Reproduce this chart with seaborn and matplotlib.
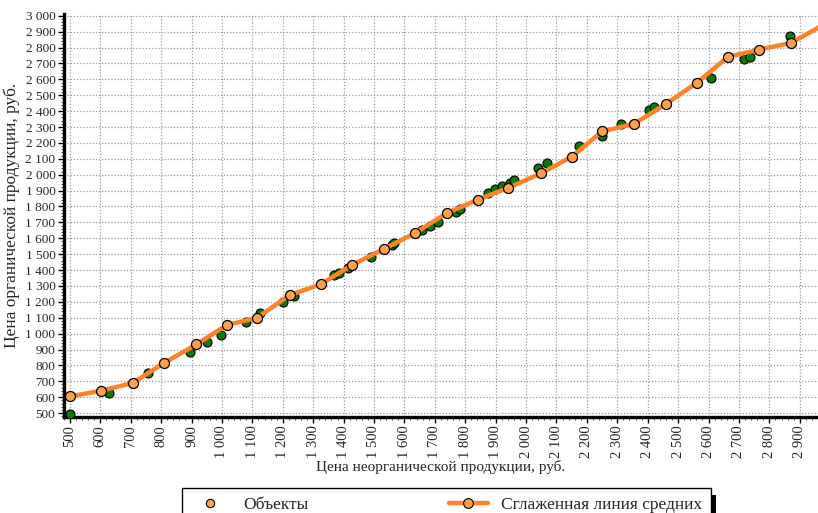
import numpy as np
import pandas as pd
import seaborn as sns
import matplotlib.pyplot as plt
from matplotlib.ticker import MultipleLocator, FuncFormatter
from matplotlib.lines import Line2D
from matplotlib.patches import Rectangle

# Объекты (green points)
obj_x = [500, 628, 757, 895, 951, 997, 1079, 1125, 1200, 1237, 1368, 1385,
         1414, 1489, 1559, 1566, 1658, 1684, 1710, 1770, 1783, 1875, 1898,
         1921, 1947, 1960, 2039, 2069, 2173, 2250, 2312, 2405, 2421, 2609,
         2717, 2737, 2868]
obj_y = [494, 626, 752, 884, 947, 991, 1075, 1130, 1200, 1237, 1369, 1382,
         1413, 1482, 1558, 1570, 1652, 1678, 1703, 1766, 1785, 1883, 1911,
         1929, 1950, 1967, 2043, 2074, 2178, 2245, 2320, 2408, 2427, 2610,
         2729, 2742, 2874]

# Сглаженная линия средних
avg_x = [500, 602, 707, 809, 916, 1016, 1115, 1224, 1326, 1428, 1533, 1635,
         1740, 1842, 1941, 2049, 2151, 2250, 2355, 2461, 2563, 2664, 2766,
         2872, 2975]
avg_y = [605, 640, 690, 815, 932, 1054, 1100, 1243, 1312, 1432, 1533, 1633,
         1759, 1843, 1917, 2008, 2114, 2272, 2320, 2446, 2580, 2742, 2786,
         2830, 2940]

x_label = "Цена неорганической продукции, руб."
y_label = "Цена органической продукции, руб."
legend_labels = ["Объекты", "Сглаженная линия средних"]

line_color = "#ff8129"
marker_face = "#ffa04d"
green = "#0b7a0b"

sns.set_theme(style="white")
plt.rcParams["font.family"] = ["Liberation Serif", "DejaVu Serif"]

fig = plt.figure(figsize=(8.18, 5.13), dpi=100)
ax = fig.add_axes([0.078, 0.187, 0.922, 0.786])

df_obj = pd.DataFrame({"x": obj_x, "y": obj_y})
df_avg = pd.DataFrame({"x": avg_x, "y": avg_y})

sns.scatterplot(data=df_obj, x="x", y="y", ax=ax, color=green, s=42,
                edgecolor="black", linewidth=0.8, zorder=3)
sns.lineplot(data=df_avg, x="x", y="y", ax=ax, color=line_color, lw=3.2,
             marker="o", markersize=7.2, markerfacecolor=marker_face,
             markeredgecolor="black", markeredgewidth=0.9, sort=False,
             zorder=4)

ax.set_xlim(480, 2960)
ax.set_ylim(475, 3012)

thousands = FuncFormatter(lambda v, p: f"{int(v):,}".replace(",", " "))
ax.xaxis.set_major_locator(MultipleLocator(100))
ax.xaxis.set_minor_locator(MultipleLocator(20))
ax.yaxis.set_major_locator(MultipleLocator(100))
ax.yaxis.set_minor_locator(MultipleLocator(20))
ax.xaxis.set_major_formatter(thousands)
ax.yaxis.set_major_formatter(thousands)

ax.grid(True, which="major", color="#999999", linestyle=(0, (1, 1.5)), lw=0.9)
ax.set_axisbelow(True)

for s in ["top", "right"]:
    ax.spines[s].set_visible(False)
for s in ["left", "bottom"]:
    ax.spines[s].set_color("black")
    ax.spines[s].set_linewidth(2.4)

ax.tick_params(axis="both", which="major", direction="out", length=4,
               width=1, color="black", pad=2)
ax.tick_params(axis="y", which="major", labelsize=9.5)
ax.tick_params(axis="x", which="major", labelsize=10.5, labelrotation=90)
ax.tick_params(axis="both", which="minor", direction="out", length=2.5,
               width=0.8, color="#555555")
ax.tick_params(axis="both", which="both", left=True, bottom=True)

ax.set_xlabel(x_label, fontsize=11, labelpad=1)
ax.set_ylabel(y_label, fontsize=12.5, labelpad=4)

handles = [
    Line2D([], [], linestyle="none", marker="o", markersize=6,
           markerfacecolor=marker_face, markeredgecolor="black",
           markeredgewidth=0.8),
    Line2D([], [], color=line_color, lw=3.2, marker="o", markersize=7,
           markerfacecolor=marker_face, markeredgecolor="black",
           markeredgewidth=0.8),
]
leg = fig.legend(handles, legend_labels, loc="upper left", ncol=2,
                 mode="expand", bbox_to_anchor=(0.2225, 0.049, 0.647, 0.0),
                 borderaxespad=0, fontsize=12.5, frameon=True, fancybox=False,
                 borderpad=0.5, handlelength=2.2, facecolor="white",
                 framealpha=1)
leg.get_frame().set_edgecolor("black")
leg.get_frame().set_linewidth(1.0)

fig.canvas.draw()
bb = leg.get_window_extent().transformed(fig.transFigure.inverted())
shadow = Rectangle((bb.x0 + 0.006, bb.y0 - 0.014), bb.width, bb.height,
                   transform=fig.transFigure, facecolor="black",
                   edgecolor="none", zorder=leg.get_zorder() - 1)
fig.patches.append(shadow)

fig.savefig("out.png", dpi=100)
